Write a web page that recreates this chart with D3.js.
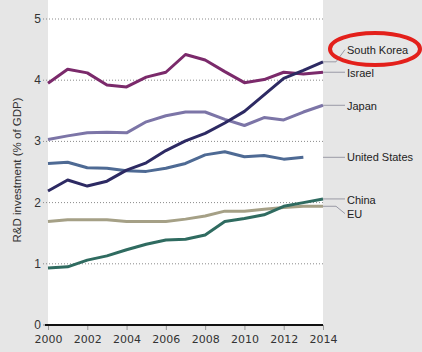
<!DOCTYPE html>
<html lang="en">
<head>
<meta charset="UTF-8" />
<title>R&amp;D investment</title>
<script src="https://cdn.jsdelivr.net/npm/d3@7"></script>
<style>
  html, body { margin: 0; padding: 0; background: #e6e6e6; }
  svg { display: block; }
</style>
</head>
<body>
<svg width="422" height="352"></svg>
<script>
    // data
    const years = [2000, 2001, 2002, 2003, 2004, 2005, 2006, 2007, 2008, 2009, 2010, 2011, 2012, 2013, 2014];
    const southKorea = [2.19, 2.37, 2.27, 2.35, 2.53, 2.65, 2.85, 3.01, 3.13, 3.30, 3.49, 3.76, 4.03, 4.16, 4.30];
    const israel = [3.95, 4.18, 4.12, 3.92, 3.89, 4.05, 4.13, 4.42, 4.33, 4.14, 3.96, 4.01, 4.13, 4.10, 4.13];
    const japan = [3.03, 3.09, 3.14, 3.15, 3.14, 3.32, 3.42, 3.48, 3.48, 3.36, 3.26, 3.39, 3.35, 3.48, 3.59];
    const unitedStates = [2.64, 2.66, 2.57, 2.56, 2.52, 2.51, 2.56, 2.64, 2.78, 2.83, 2.75, 2.77, 2.71, 2.74];
    const china = [0.93, 0.95, 1.06, 1.13, 1.23, 1.32, 1.39, 1.40, 1.47, 1.69, 1.74, 1.80, 1.94, 2.00, 2.06];
    const eu = [1.69, 1.72, 1.72, 1.72, 1.69, 1.69, 1.69, 1.73, 1.78, 1.86, 1.86, 1.89, 1.92, 1.94, 1.94];

    const seriesNames = ["South Korea", "Israel", "Japan", "United States", "China", "EU"];
    const seriesValues = [southKorea, israel, japan, unitedStates, china, eu];
    const yTicks = [0, 1, 2, 3, 4, 5];
    const xTicks = [2000, 2002, 2004, 2006, 2008, 2010, 2012, 2014];

    // label spots on the right (in % of GDP units)
    const labelAt = [4.5, 4.12, 3.58, 2.75, 2.05, 1.82];
    const colors = ["#2d2a63", "#7b2a6b", "#7c75a7", "#4e6a94", "#2f6b60", "#a5a086"];

    const svg = d3.select("svg");
    const x = d3.scaleLinear().domain([2000, 2014]).range([48, 323]);
    const y = d3.scaleLinear().domain([0, 5]).range([325, 19]);

    // white plot panel
    svg.append("rect")
        .attr("x", x(2000)).attr("y", 0)
        .attr("width", x(2014) - x(2000)).attr("height", y(0))
        .attr("fill", "#fff");

    // dotted grid
    svg.selectAll(".grid")
        .data(yTicks.filter(d => d > 0))
        .join("line")
        .attr("x1", 43).attr("x2", x(2014))
        .attr("y1", d => y(d)).attr("y2", d => y(d))
        .attr("stroke", "#8a8a8a")
        .attr("stroke-width", 1)
        .attr("stroke-dasharray", "1,2");

    // y tick labels
    svg.selectAll(".ylab")
        .data(yTicks)
        .join("text")
        .attr("x", 41).attr("y", d => y(d) + 4)
        .attr("text-anchor", "end")
        .attr("font-family", "Liberation Sans, Arial, sans-serif")
        .attr("font-size", 12)
        .attr("fill", "#333")
        .text(d => d);

    svg.append("line")
        .attr("x1", 43).attr("x2", 48)
        .attr("y1", y(0)).attr("y2", y(0))
        .attr("stroke", "#888");

    // x axis
    const xAxis = svg.append("g")
        .attr("transform", `translate(0,${y(0)})`)
        .call(d3.axisBottom(x).tickValues(xTicks).tickFormat(d3.format("d")).tickSize(5).tickPadding(5));
    xAxis.select(".domain").remove();
    xAxis.selectAll(".tick line").attr("stroke", "#999");
    xAxis.selectAll(".tick text")
        .attr("font-family", "DejaVu Sans, Verdana, sans-serif")
        .attr("font-size", 11)
        .attr("fill", "#333");

    svg.append("line")
        .attr("x1", 45).attr("x2", x(2014))
        .attr("y1", y(0)).attr("y2", y(0))
        .attr("stroke", "#111").attr("stroke-width", 2);

    // y axis title
    svg.append("text")
        .attr("transform", `translate(21,${170}) rotate(-90)`)
        .attr("text-anchor", "middle")
        .attr("font-family", "Liberation Sans, Arial, sans-serif")
        .attr("font-size", 11.5)
        .attr("fill", "#333")
        .text("R&D investment (% of GDP)");

    // series lines
    const line = d3.line()
        .x((d, i) => x(years[i]))
        .y(d => y(d));

    // draw bottom-up so South Korea sits on top
    const order = [5, 4, 3, 2, 1, 0];
    svg.selectAll(".series")
        .data(order)
        .join("path")
        .attr("d", i => line(seriesValues[i]))
        .attr("fill", "none")
        .attr("stroke", i => colors[i])
        .attr("stroke-width", 3)
        .attr("stroke-linejoin", "round");

    // leaders + labels (leaders start at the panel edge)
    seriesNames.forEach((name, i) => {
        const vals = seriesValues[i];
        const x0 = x(2014);
        const y0 = y(vals[vals.length - 1]);
        const y1 = y(labelAt[i]);
        const pts = Math.abs(y1 - y0) > 3
            ? [[x0, y0], [336, y0], [345, y1]]
            : [[x0, y0], [345, y0]];
        svg.append("path")
            .attr("d", d3.line()(pts))
            .attr("fill", "none")
            .attr("stroke", "#9a9aa6")
            .attr("stroke-width", 1);
        svg.append("text")
            .attr("x", 347).attr("y", y1 + 4)
            .attr("font-family", "Liberation Sans, Arial, sans-serif")
            .attr("font-size", 11)
            .attr("fill", "#222")
            .text(name);
    });

    // red highlight ring
    svg.append("ellipse")
        .attr("cx", 375).attr("cy", 49)
        .attr("rx", 45).attr("ry", 16)
        .attr("fill", "none")
        .attr("stroke", "#e3201b")
        .attr("stroke-width", 4);
</script>
</body>
</html>
